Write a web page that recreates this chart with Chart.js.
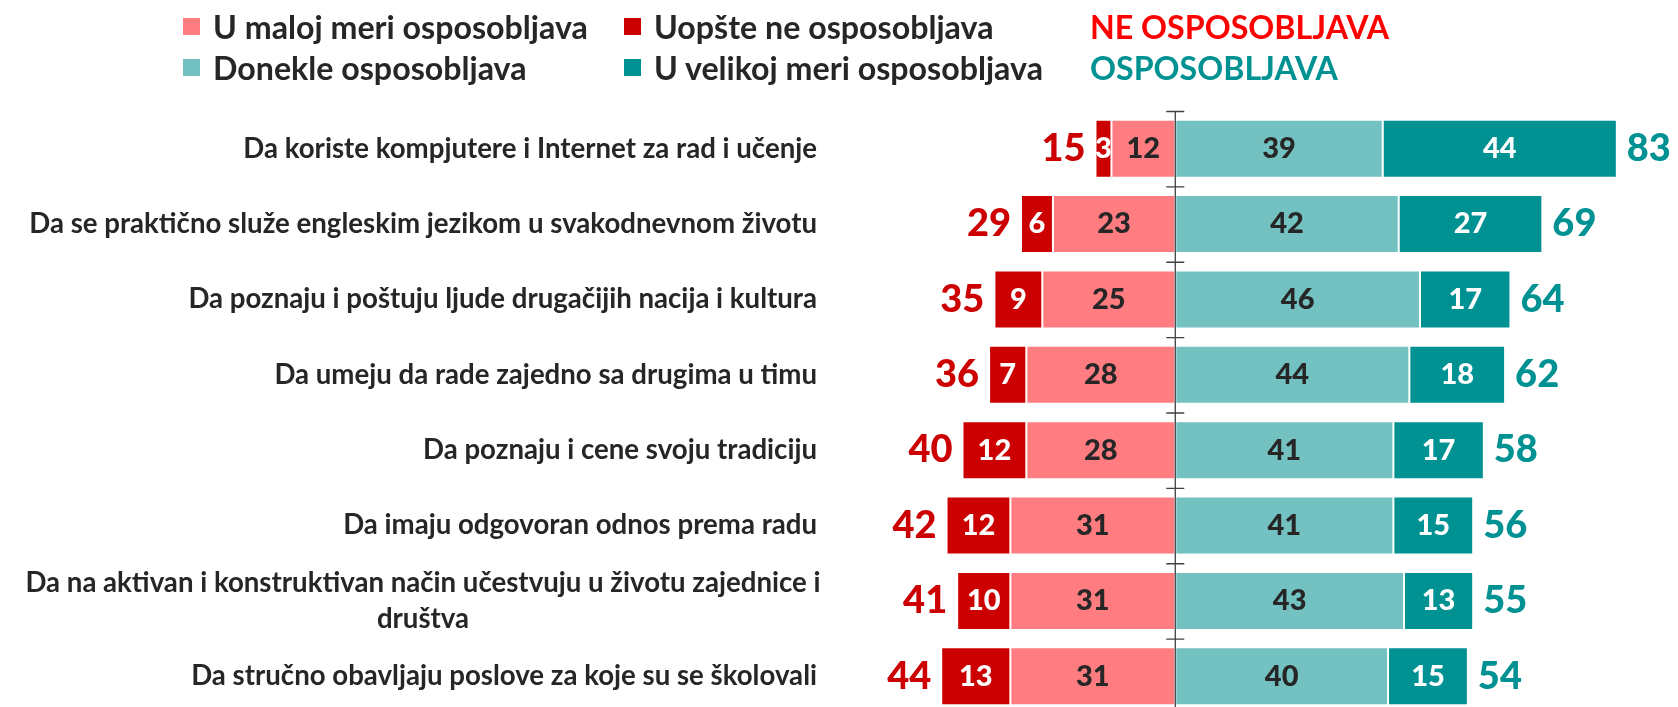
<!DOCTYPE html>
<html>
<head>
<meta charset="utf-8">
<script src="https://cdn.jsdelivr.net/npm/chart.js@4.4.0/dist/chart.umd.min.js"></script>
<style>
html, body { margin: 0; padding: 0; background: #fff; overflow: hidden; }
#wrap { position: relative; width: 1678px; height: 714px; }
#chart { position: absolute; left: 0; top: 0; }
.leg { position: absolute; font-family: Lato, sans-serif; font-weight: 700; color: #262626;
       white-space: nowrap; display: flex; align-items: center; height: 30px; }
.leg .box { display: inline-block; width: 17px; height: 17px; margin-right: 13px; }
</style>
</head>
<body>
<div id="wrap">
  <canvas id="chart" width="1678" height="714"></canvas>
  <div id="legend"></div>
</div>
<script>
// categories, top to bottom
const categories = [
    "Da koriste kompjutere i Internet za rad i učenje",
    "Da se praktično služe engleskim jezikom u svakodnevnom životu",
    "Da poznaju i poštuju ljude drugačijih nacija i kultura",
    "Da umeju da rade zajedno sa drugima u timu",
    "Da poznaju i cene svoju tradiciju",
    "Da imaju odgovoran odnos prema radu",
    ["Da na aktivan i konstruktivan način učestvuju u životu zajednice i", "društva"],
    "Da stručno obavljaju poslove za koje su se školovali"
];
const seriesNames = ["U maloj meri osposobljava", "Uopšte ne osposobljava", "Donekle osposobljava", "U velikoj meri osposobljava"];
const groupNames = ["NE OSPOSOBLJAVA", "OSPOSOBLJAVA"];

const maloj   = [12, 23, 25, 28, 28, 31, 31, 31];
const uopste  = [3, 6, 9, 7, 12, 12, 10, 13];
const donekle = [39, 42, 46, 44, 41, 41, 43, 40];
const velikoj = [44, 27, 17, 18, 17, 15, 13, 15];
const totalNe = [15, 29, 35, 36, 40, 42, 41, 44];
const totalDa = [83, 69, 64, 62, 58, 56, 55, 54];

const colors = ["#FF7C80", "#CC0000", "#73C2C1", "#009193"];
const labelColors = ["#262626", "#ffffff", "#262626", "#ffffff"];
const groupColors = ["#FF0000", "#009193"];
const FONT = "Lato, 'Open Sans', sans-serif";

// size fonts so text widths roughly match the original
const mctx = document.createElement("canvas").getContext("2d");
function textW(t, px) {
    mctx.font = "bold " + px + "px " + FONT;
    return mctx.measureText(t).width;
}
const catSize = 28 * 788 / textW(categories[1], 28);
const legSize = 28 * 375 / textW(seriesNames[0], 28);

// legend (html)
const legItems = [
    { x: 183, y: 26, text: seriesNames[0], color: colors[0] },
    { x: 624, y: 26, text: seriesNames[1], color: colors[1] },
    { x: 183, y: 67, text: seriesNames[2], color: colors[2] },
    { x: 624, y: 67, text: seriesNames[3], color: colors[3] }
];
const legend = document.getElementById("legend");
legItems.forEach(it => {
    const d = document.createElement("div");
    d.className = "leg";
    d.style.left = it.x + "px";
    d.style.top = (it.y - 15) + "px";
    d.style.fontSize = legSize + "px";
    d.innerHTML = '<span class="box" style="background:' + it.color + '"></span>' + it.text;
    legend.appendChild(d);
});
[[groupNames[0], groupColors[0], 26], [groupNames[1], groupColors[1], 67]].forEach(g => {
    const d = document.createElement("div");
    d.className = "leg";
    d.style.left = "1090px";
    d.style.top = (g[2] - 15) + "px";
    d.style.fontSize = legSize + "px";
    d.style.color = g[1];
    d.textContent = g[0];
    legend.appendChild(d);
});

const rawData = [maloj, uopste, donekle, velikoj];

const drawExtras = {
    id: "drawExtras",
    afterDatasetsDraw(chart) {
        const ctx = chart.ctx;
        const xs = chart.scales.x, ys = chart.scales.y;
        const area = chart.chartArea;
        const x0 = xs.getPixelForValue(0);
        ctx.save();

        // segment values
        ctx.textAlign = "center";
        ctx.textBaseline = "middle";
        ctx.font = "900 29px " + FONT;
        rawData.forEach((arr, di) => {
            const meta = chart.getDatasetMeta(di);
            meta.data.forEach((bar, j) => {
                const p = bar.getProps(["x", "base", "y"], true);
                ctx.fillStyle = labelColors[di];
                ctx.fillText(String(arr[j]), (p.x + p.base) / 2, p.y);
            });
        });

        // totals
        ctx.font = "900 38px " + FONT;
        const neg = chart.getDatasetMeta(1), pos = chart.getDatasetMeta(3);
        categories.forEach((c, j) => {
            const pn = neg.data[j].getProps(["x", "y"], true);
            const pp = pos.data[j].getProps(["x", "y"], true);
            ctx.fillStyle = "#CC0000";
            ctx.textAlign = "right";
            ctx.fillText(String(totalNe[j]), pn.x - 10, pn.y);
            ctx.fillStyle = "#009193";
            ctx.textAlign = "left";
            ctx.fillText(String(totalDa[j]), pp.x + 10, pp.y);
        });

        // zero axis with ticks at category boundaries
        ctx.strokeStyle = "#404040";
        ctx.lineWidth = 1.3;
        ctx.beginPath();
        ctx.moveTo(x0, area.top);
        ctx.lineTo(x0, area.bottom);
        const step = (area.bottom - area.top) / categories.length;
        for (let i = 0; i <= categories.length; i++) {
            const y = area.top + i * step + 0.5;
            ctx.moveTo(x0 - 9, y);
            ctx.lineTo(x0 + 9, y);
        }
        ctx.stroke();

        // category labels
        ctx.fillStyle = "#262626";
        ctx.font = "bold " + catSize + "px " + FONT;
        categories.forEach((c, j) => {
            const y = ys.getPixelForValue(j);
            if (Array.isArray(c)) {
                ctx.textAlign = "center";
                ctx.fillText(c[0], 423, y - 18);
                ctx.fillText(c[1], 423, y + 18);
            } else {
                ctx.textAlign = "right";
                ctx.fillText(c, 817, y);
            }
        });
        ctx.restore();
    }
};

new Chart("chart", {
    type: "bar",
    data: {
        labels: categories.map((c, i) => i),
        datasets: rawData.map((arr, i) => ({
            label: seriesNames[i],
            data: i < 2 ? arr.map(v => -v) : arr,
            backgroundColor: colors[i],
            borderColor: "#ffffff",
            borderWidth: 1,
            borderSkipped: false,
            barPercentage: 0.77,
            categoryPercentage: 1
        }))
    },
    options: {
        indexAxis: "y",
        responsive: false,
        devicePixelRatio: 1,
        animation: false,
        layout: { padding: { left: 829.5, right: 0, top: 111, bottom: 0 } },
        plugins: { legend: { display: false }, tooltip: { enabled: false } },
        scales: {
            x: { type: "linear", stacked: true, min: -65, max: 94.5, display: false },
            y: { type: "category", stacked: true, display: false }
        }
    },
    plugins: [drawExtras]
});
</script>
</body>
</html>
